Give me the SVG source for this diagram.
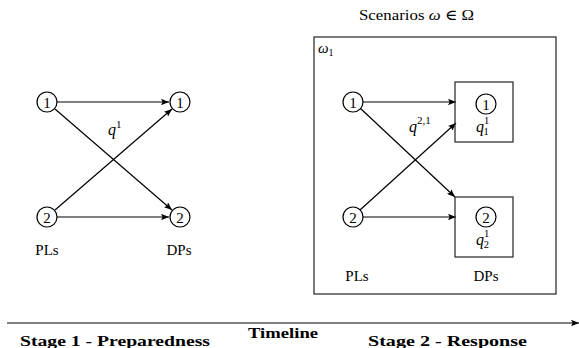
<svg xmlns="http://www.w3.org/2000/svg" width="579" height="348" viewBox="0 0 579 348">
<style>
text{font-family:"Liberation Serif","DejaVu Serif",serif;fill:#000}
.n{font-size:15px;text-anchor:middle}
.lbl{font-size:15px;text-anchor:middle}
.it{font-style:italic}
.b{font-weight:bold;font-size:15px}
circle{fill:#fff;stroke:#000;stroke-width:1.2}
.box{fill:none;stroke:#333;stroke-width:1.3}
.e{stroke:#000;stroke-width:1.2;fill:none;marker-end:url(#ah)}
</style>
<defs>
<marker id="ah" viewBox="0 0 10 8" refX="10" refY="4" markerWidth="8" markerHeight="6.4" orient="auto" markerUnits="userSpaceOnUse">
<path d="M0,0 L10,4 L0,8 L2,4 Z" fill="#000"/>
</marker>
</defs>
<rect width="579" height="348" fill="#fff"/>
<g id="connectors">
<line class="e" x1="57" y1="102" x2="169" y2="102"/>
<line class="e" x1="55" y1="109" x2="172" y2="210"/>
<line class="e" x1="55" y1="210" x2="172" y2="109"/>
<line class="e" x1="57" y1="217" x2="169" y2="217"/>
<line class="e" x1="363" y1="102" x2="456" y2="102"/>
<line class="e" x1="360" y1="108" x2="455" y2="197"/>
<line class="e" x1="360" y1="210" x2="456" y2="123"/>
<line class="e" x1="363" y1="217" x2="456" y2="217"/>
<line class="e" x1="7" y1="323" x2="579" y2="323"/>
</g>
<g id="stage1">
<g id="pl1"><circle cx="47" cy="102" r="10"/><text class="n" x="47" y="107.5">1</text></g>
<g id="pl2"><circle cx="47" cy="217" r="10"/><text class="n" x="47" y="222.5">2</text></g>
<g id="dp1"><circle cx="180" cy="102" r="10"/><text class="n" x="180" y="107.5">1</text></g>
<g id="dp2"><circle cx="180" cy="217" r="10"/><text class="n" x="180" y="222.5">2</text></g>
<text x="108" y="135" font-size="16"><tspan class="it">q</tspan><tspan font-size="11" dy="-7">1</tspan></text>
<text class="lbl" x="47" y="255">PLs</text>
<text class="lbl" x="179" y="255">DPs</text>
</g>
<g id="scenarios">
<text x="359" y="20" font-size="15" textLength="115" lengthAdjust="spacingAndGlyphs">Scenarios <tspan class="it">ω</tspan> ∈ Ω</text>
<rect class="box" x="314" y="37" width="242" height="257"/>
<text x="318" y="53" font-size="15"><tspan class="it">ω</tspan><tspan font-size="10" dy="3">1</tspan></text>
<g id="s-pl1"><circle cx="353" cy="102" r="10"/><text class="n" x="353" y="107.5">1</text></g>
<g id="s-pl2"><circle cx="353" cy="217" r="10"/><text class="n" x="353" y="222.5">2</text></g>
<g id="s-dp1"><rect class="box" x="455" y="82" width="58" height="60"/><circle cx="486" cy="104" r="10"/><text class="n" x="486" y="109.5">1</text>
<text x="476" y="132" font-size="16"><tspan class="it">q</tspan><tspan font-size="10.5" dy="-8">1</tspan><tspan font-size="10.5" dx="-5.5" dy="11">1</tspan></text></g>
<g id="s-dp2"><rect class="box" x="455" y="197" width="58" height="60"/><circle cx="486" cy="217" r="10"/><text class="n" x="486" y="222.5">2</text>
<text x="476" y="245" font-size="16"><tspan class="it">q</tspan><tspan font-size="10.5" dy="-8">1</tspan><tspan font-size="10.5" dx="-5.5" dy="11">2</tspan></text></g>
<text x="409" y="132" font-size="16"><tspan class="it">q</tspan><tspan font-size="11" dy="-8">2,1</tspan></text>
<text class="lbl" x="357" y="281">PLs</text>
<text class="lbl" x="486" y="281">DPs</text>
</g>
<g id="timeline">
<text class="b" x="248" y="338" textLength="70" lengthAdjust="spacingAndGlyphs">Timeline</text>
<text class="b" x="20" y="346" textLength="190" lengthAdjust="spacingAndGlyphs">Stage 1 - Preparedness</text>
<text class="b" x="368" y="346" textLength="159" lengthAdjust="spacingAndGlyphs">Stage 2 - Response</text>
</g>
</svg>
